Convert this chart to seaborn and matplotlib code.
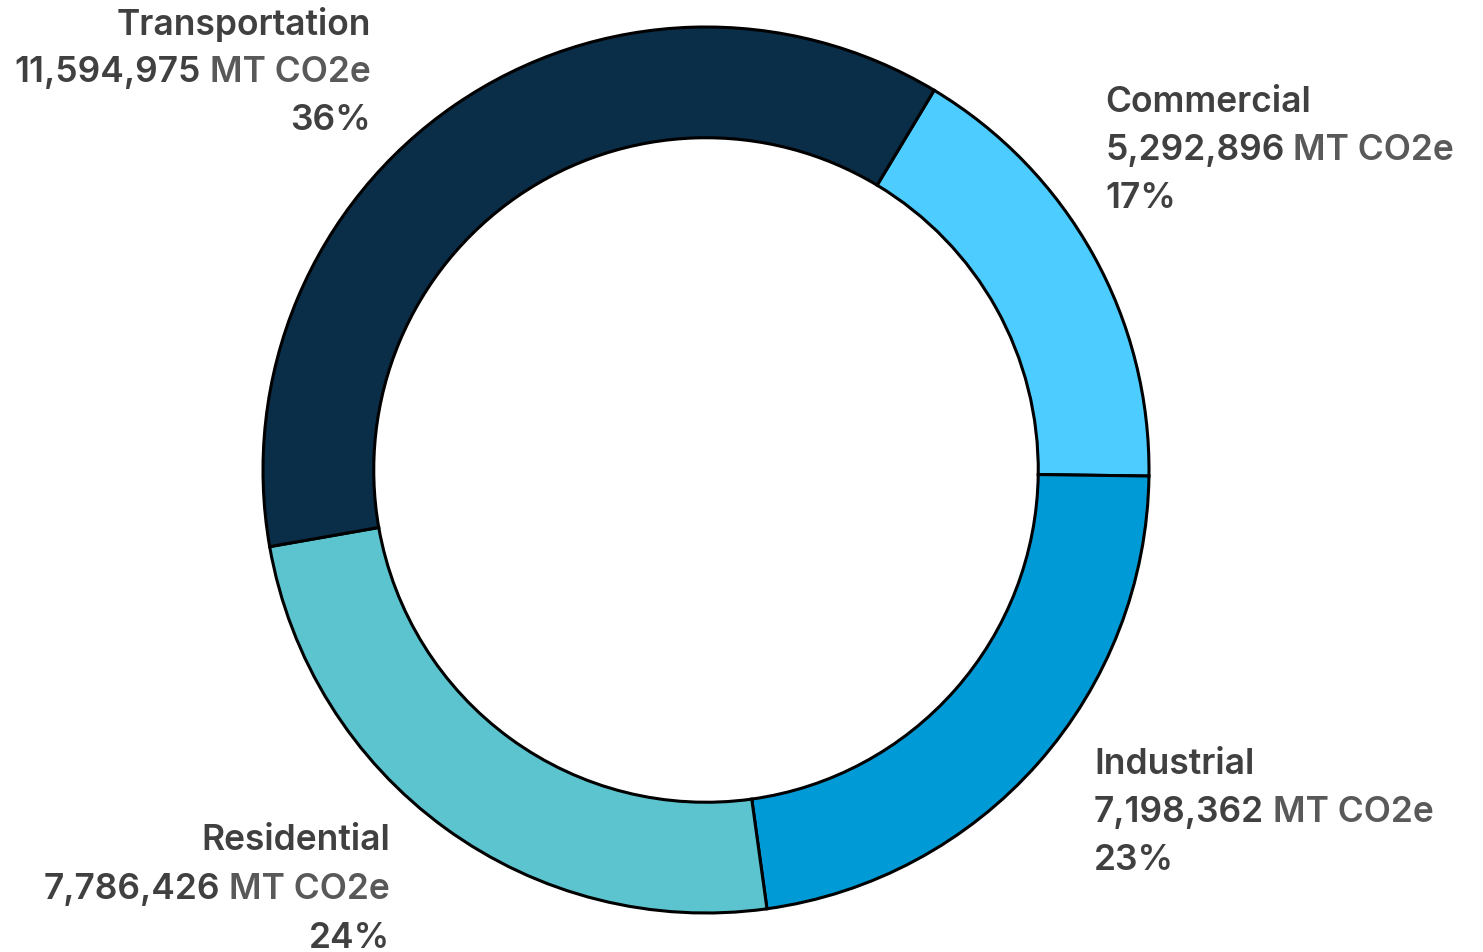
import seaborn as sns
import matplotlib.pyplot as plt

sns.set_theme(style="white")
plt.rcParams["font.family"] = ["Inter", "DejaVu Sans"]

# data
sectors = ["Commercial", "Industrial", "Residential", "Transportation"]
emissions = [5292896, 7198362, 7786426, 11594975]
colors = ["#4dcdff", "#009bd6", "#5bc4cf", "#0a2d48"]

W, H = 1483, 952
fig = plt.figure(figsize=(W / 100, H / 100), dpi=100)
ax = fig.add_axes([0, 0, 1, 1])

ax.pie(
    emissions,
    colors=colors,
    startangle=59,
    counterclock=False,
    center=(706, H - 470),
    radius=443,
    frame=True,
    wedgeprops=dict(width=443 * 0.25, edgecolor="black", linewidth=2.2),
)
ax.set_xlim(0, W)
ax.set_ylim(0, H)
ax.set_aspect("equal")
ax.axis("off")

total = sum(emissions)
dark = "#404040"
light = "#595959"
fs = 25.5

# label anchor (x, y of first line), alignment
label_pos = {
    "Transportation": (371, 24, "right"),
    "Commercial": (1105, 102, "left"),
    "Industrial": (1094, 764, "left"),
    "Residential": (390, 841, "right"),
}
gap = 48.5

for name, val in zip(sectors, emissions):
    x, y, ha = label_pos[name]
    pct = f"{val / total * 100:.0f}%"
    num = f"{val:,}"
    kw = dict(fontsize=fs, fontweight="semibold", va="center")
    ax.text(x, H - y, name, ha=ha, color=dark, **kw)
    y2 = H - (y + gap)
    if ha == "left":
        t = ax.text(x, y2, num, ha="left", color=dark, **kw)
        ax.annotate(" MT CO2e", xy=(1, 0.5), xycoords=t, ha="left",
                    color=light, **kw)
    else:
        t = ax.text(x, y2, " MT CO2e", ha="right", color=light, **kw)
        ax.annotate(num, xy=(0, 0.5), xycoords=t, ha="right",
                    color=dark, **kw)
    ax.text(x, H - (y + 2 * gap), pct, ha=ha, color=dark, **kw)

fig.savefig("out.png", dpi=100, facecolor="white")
